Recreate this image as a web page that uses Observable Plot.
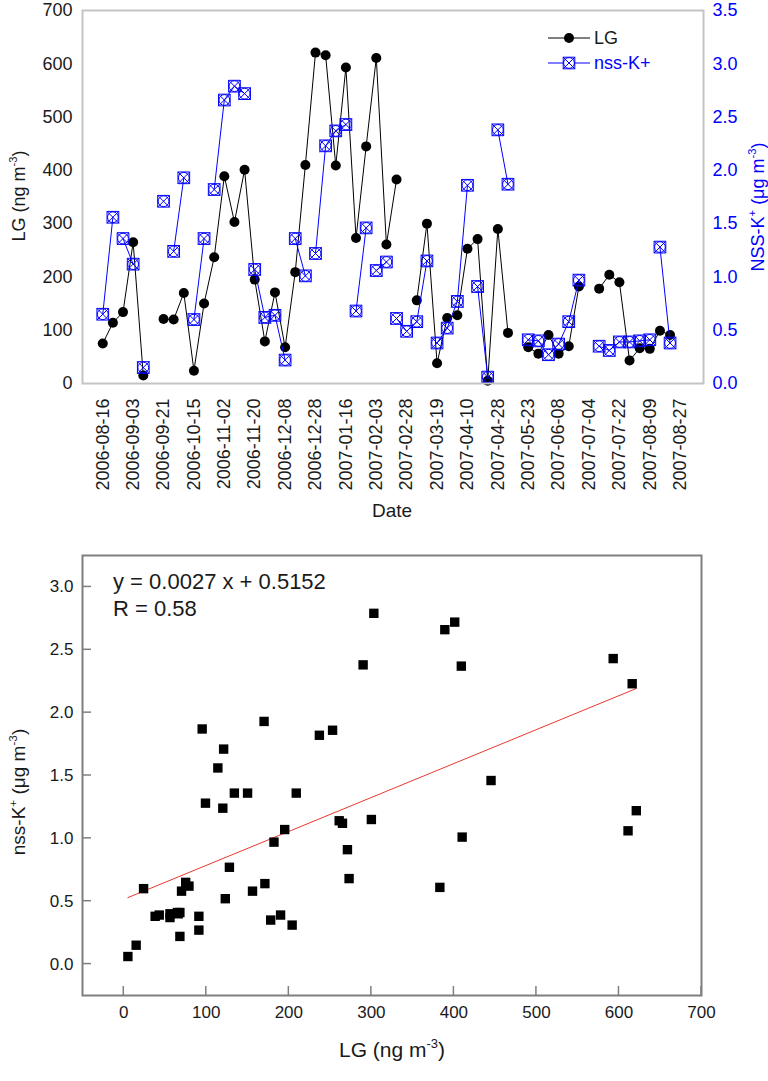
<!DOCTYPE html>
<html>
<head>
<meta charset="utf-8">
<script src="https://cdn.jsdelivr.net/npm/d3@7"></script>
<script src="https://cdn.jsdelivr.net/npm/@observablehq/plot@0.6"></script>
<style>
  body { margin: 0; background: #fff; }
  #chart svg { display: block; }
</style>
</head>
<body>
<div id="chart"></div>
<script>
// ---------- data ----------
const tickLabels = ["2006-08-16","2006-09-03","2006-09-21","2006-10-15","2006-11-02","2006-11-20","2006-12-08","2006-12-28","2007-01-16","2007-02-03","2007-02-28","2007-03-19","2007-04-10","2007-04-28","2007-05-23","2007-06-08","2007-07-04","2007-07-22","2007-08-09","2007-08-27"];
const tickEvery = 3; // one date label every third sample

const lgValues = [75,114,134,265,15,null,121,120,170,24,150,237,389,303,401,195,79,171,68,209,410,621,616,409,593,273,445,611,261,383,null,156,300,38,123,128,253,271,5,290,95,null,68,56,91,56,70,182,null,178,204,190,43,66,65,99,91];

const nssValues = [0.65,1.56,1.36,1.12,0.15,null,1.71,1.24,1.93,0.60,1.36,1.82,2.66,2.79,2.72,1.07,0.62,0.64,0.22,1.36,1.01,1.22,2.23,2.37,2.43,0.68,1.46,1.06,1.14,0.61,0.49,0.58,1.15,0.38,0.52,0.77,1.86,0.91,0.06,2.38,1.87,null,0.41,0.40,0.27,0.37,0.58,0.97,null,0.35,0.31,0.39,0.39,0.40,0.41,1.28,0.38];

// sample indices where a new nss-K+ line segment starts
const nssSegmentStarts = [0,2,4,6,7,9,11,15,19,21,25,27,29,33,37,39,42,49,55];

const lgTicks = [0,100,200,300,400,500,600,700];
const nssTicks = [0,0.5,1.0,1.5,2.0,2.5,3.0,3.5];
const scatterXTicks = [0,100,200,300,400,500,600,700];
const scatterYTicks = [0,0.5,1.0,1.5,2.0,2.5,3.0];
const scatterXDomain = [-50, 700];
const scatterYDomain = [-0.25, 3.25];

const slope = 0.0027, intercept = 0.5152, rValue = 0.58;

// ---------- helpers ----------
const FONT = "'Liberation Sans', Arial, Helvetica, sans-serif";
const BLUE = "#0000ff";
const k = lgTicks[lgTicks.length - 1] / nssTicks[nssTicks.length - 1]; // nss -> LG axis scale

const rows = lgValues.map((lg, i) => ({
  i, lg, nss: nssValues[i], seg: d3.bisectRight(nssSegmentStarts, i)
}));
const lgRows = rows.filter(d => d.lg != null);
const nssRows = rows.filter(d => d.nss != null);

function addText(svg, {x, y, rotate = 0, size, fill = "#1a1a1a", anchor = "middle", parts}) {
  const t = d3.select(svg).append("text")
    .attr("transform", `translate(${x},${y}) rotate(${rotate})`)
    .attr("text-anchor", anchor)
    .attr("font-family", FONT)
    .attr("font-size", size)
    .attr("fill", fill);
  let shifted = false;
  const up = size * 0.42;
  parts.forEach(p => {
    const s = t.append("tspan");
    if (typeof p === "string") {
      if (shifted) { s.attr("dy", up); shifted = false; }
      s.text(p);
    } else {
      s.attr("dy", -up).attr("font-size", size * 0.62).text(p.sup);
      shifted = true;
    }
  });
  return t;
}

// ---------- top chart ----------
const topPlot = Plot.plot({
  width: 768,
  height: 530,
  marginTop: 10,
  marginBottom: 147,
  marginLeft: 82,
  marginRight: 65,
  style: {fontFamily: FONT, fontSize: "18px", color: "#1a1a1a", background: "white", overflow: "visible"},
  x: {domain: [-2, 59.3]},
  y: {domain: [0, 700]},
  marks: [
    Plot.axisY(lgTicks, {anchor: "left", tickSize: 0, tickPadding: 10, label: null, fontSize: 18}),
    Plot.axisY(nssTicks.map(v => v * k), {anchor: "right", tickSize: 0, tickPadding: 9, label: null,
      tickFormat: d => (d / k).toFixed(1), fill: BLUE, fontSize: 18}),
    Plot.axisX(tickLabels.map((_, j) => j * tickEvery), {anchor: "bottom", tickSize: 0, tickPadding: 15,
      tickRotate: -90, label: null, tickFormat: d => tickLabels[d / tickEvery], fontSize: 18}),
    Plot.line(rows, {x: "i", y: "lg", stroke: "black", strokeWidth: 1}),
    Plot.dot(lgRows, {x: "i", y: "lg", r: 5, fill: "black"}),
    Plot.line(nssRows, {x: "i", y: d => d.nss * k, z: "seg", stroke: BLUE, strokeWidth: 1}),
    Plot.dot(nssRows, {x: "i", y: d => d.nss * k, symbol: "square", r: 6.6, stroke: BLUE, fill: "none", strokeWidth: 1}),
    Plot.dot(nssRows, {x: "i", y: d => d.nss * k, symbol: "circle", r: 5.4, stroke: BLUE, fill: "none", strokeWidth: 1}),
    Plot.dot(nssRows, {x: "i", y: d => d.nss * k, symbol: "times", r: 5.6, stroke: BLUE, fill: "none", strokeWidth: 1}),
    Plot.frame({stroke: "#c4c4c4", strokeWidth: 2})
  ]
});

// titles top
addText(topPlot, {x: 25, y: 196, rotate: -90, size: 18, parts: ["LG (ng m", {sup: "-3"}, ")"]});
addText(topPlot, {x: 764, y: 207, rotate: -90, size: 18, fill: BLUE, parts: ["NSS-K", {sup: "+"}, " (\u03bcg m", {sup: "-3"}, ")"]});
addText(topPlot, {x: 392, y: 517, size: 19, parts: ["Date"]});

// legend
{
  const g = d3.select(topPlot).append("g");
  const lx1 = 548, lx2 = 590, cx = 569;
  g.append("line").attr("x1", lx1).attr("x2", lx2).attr("y1", 38).attr("y2", 38).attr("stroke", "black");
  g.append("circle").attr("cx", cx).attr("cy", 38).attr("r", 5).attr("fill", "black");
  addText(topPlot, {x: 594, y: 44, size: 18, anchor: "start", parts: ["LG"]});
  g.append("line").attr("x1", lx1).attr("x2", lx2).attr("y1", 63).attr("y2", 63).attr("stroke", BLUE);
  g.append("rect").attr("x", cx - 5.8).attr("y", 63 - 5.8).attr("width", 11.6).attr("height", 11.6).attr("fill", "white").attr("stroke", BLUE);
  g.append("circle").attr("cx", cx).attr("cy", 63).attr("r", 5.4).attr("fill", "none").attr("stroke", BLUE);
  g.append("path").attr("d", `M${cx-5.8},${63-5.8}L${cx+5.8},${63+5.8}M${cx-5.8},${63+5.8}L${cx+5.8},${63-5.8}`).attr("stroke", BLUE);
  addText(topPlot, {x: 594, y: 69, size: 18, anchor: "start", fill: BLUE, parts: ["nss-K+"]});
}

// ---------- bottom chart ----------
const pairs = rows.filter(d => d.lg != null && d.nss != null);
const lgExtent = d3.extent(pairs, d => d.lg);

const bottomPlot = Plot.plot({
  width: 768,
  height: 551,
  marginTop: 25,
  marginBottom: 86,
  marginLeft: 82,
  marginRight: 67,
  style: {fontFamily: FONT, fontSize: "17px", color: "#1a1a1a", background: "white", overflow: "visible"},
  x: {domain: scatterXDomain},
  y: {domain: scatterYDomain},
  marks: [
    Plot.axisX(scatterXTicks, {anchor: "bottom", tickSize: 0, tickPadding: 10, label: null, fontSize: 17}),
    Plot.axisY(scatterYTicks, {anchor: "left", tickSize: 0, tickPadding: 9, label: null,
      tickFormat: d => d.toFixed(1), fontSize: 17}),
    Plot.line(lgExtent, {x: d => d, y: d => slope * d + intercept, stroke: "#e8392f", strokeWidth: 1}),
    Plot.dot(pairs, {x: "lg", y: "nss", symbol: "square", r: 5.3, fill: "black"}),
    Plot.frame({stroke: "#7f7f7f", strokeWidth: 2})
  ]
});

// short inward tick marks on the bottom and left edges, positioned with Plot's own scales
{
  const sx = bottomPlot.scale("x"), sy = bottomPlot.scale("y");
  const x0 = sx.apply(scatterXDomain[0]), y0 = sy.apply(scatterYDomain[0]);
  const g = d3.select(bottomPlot).append("g").attr("stroke", "#7f7f7f").attr("stroke-width", 1.5);
  scatterXTicks.forEach(v => {
    const x = sx.apply(v);
    g.append("line").attr("x1", x).attr("x2", x).attr("y1", y0).attr("y2", y0 - 9);
  });
  scatterYTicks.forEach(v => {
    const y = sy.apply(v);
    g.append("line").attr("x1", x0).attr("x2", x0 + 9).attr("y1", y).attr("y2", y);
  });
}

addText(bottomPlot, {x: 25, y: 262, rotate: -90, size: 19, parts: ["nss-K", {sup: "+"}, " (\u03bcg m", {sup: "-3"}, ")"]});
addText(bottomPlot, {x: 392, y: 527, size: 21, parts: ["LG (ng m", {sup: "-3"}, ")"]});
addText(bottomPlot, {x: 113, y: 59, size: 22, anchor: "start", parts: [`y = ${slope.toFixed(4)} x + ${intercept.toFixed(4)}`]});
addText(bottomPlot, {x: 113, y: 86, size: 22, anchor: "start", parts: [`R = ${rValue.toFixed(2)}`]});

const root = document.getElementById("chart");
root.appendChild(topPlot);
root.appendChild(bottomPlot);
</script>
</body>
</html>
